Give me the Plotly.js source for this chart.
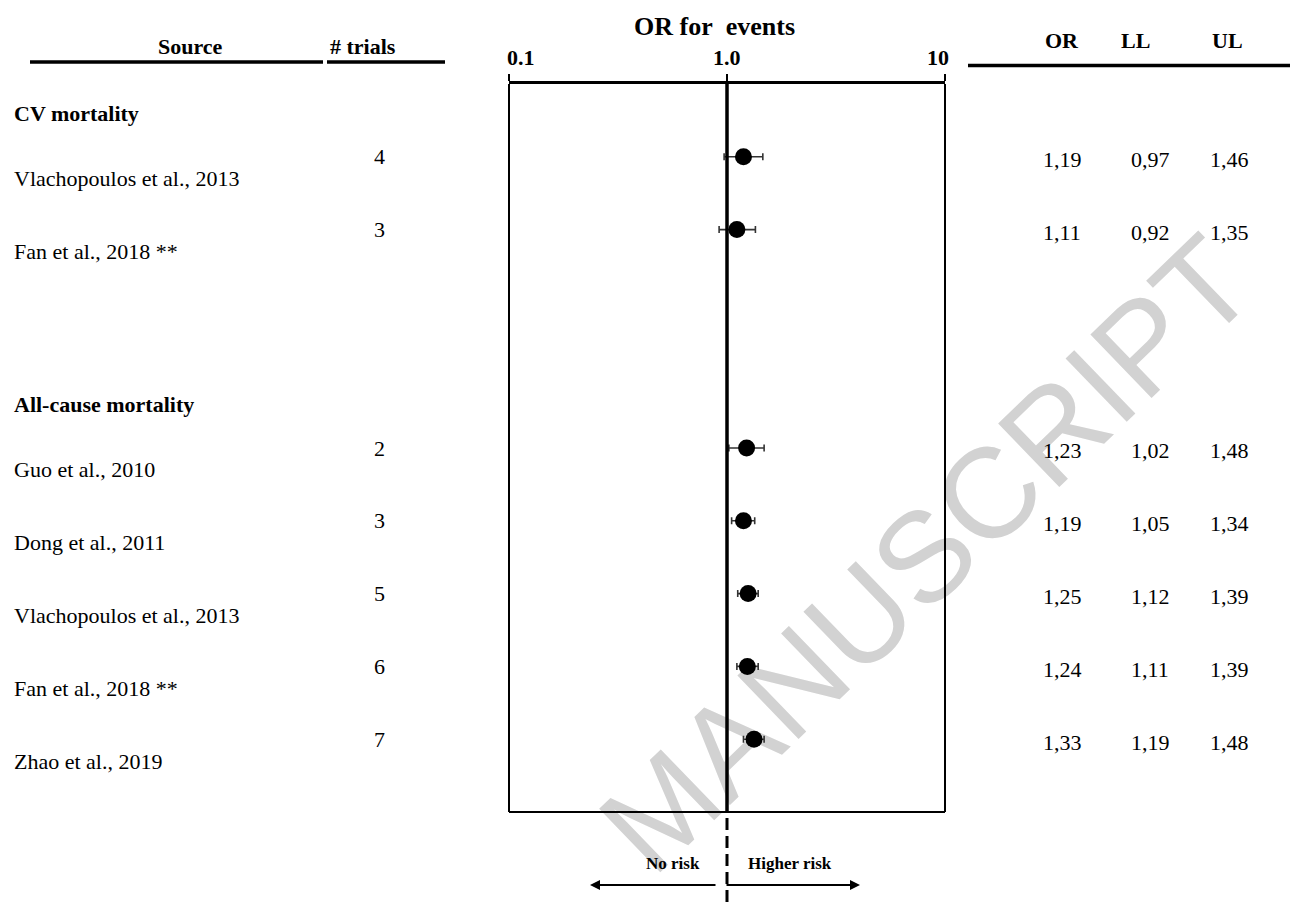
<!DOCTYPE html>
<html>
<head>
<meta charset="utf-8">
<script src="https://cdn.plot.ly/plotly-3.0.1.min.js"></script>
<style>
  html, body { margin: 0; padding: 0; background: #fff; }
  #chart { width: 1290px; height: 902px; }
</style>
</head>
<body>
<div id="chart"></div>
<script>
// ---------------- data ----------------
const groups = ['CV mortality', 'All-cause mortality'];
const sources = [
  'Vlachopoulos et al., 2013',
  'Fan et al., 2018 **',
  'Guo et al., 2010',
  'Dong et al., 2011',
  'Vlachopoulos et al., 2013',
  'Fan et al., 2018 **',
  'Zhao et al., 2019'
];
const groupOf = [0, 0, 1, 1, 1, 1, 1];
const trials = [4, 3, 2, 3, 5, 6, 7];
const orVals = [1.19, 1.11, 1.23, 1.19, 1.25, 1.24, 1.33];
const llVals = [0.97, 0.92, 1.02, 1.05, 1.12, 1.11, 1.19];
const ulVals = [1.46, 1.35, 1.48, 1.34, 1.39, 1.39, 1.48];
const tickVals = [0.1, 1, 10];
const tickLabels = ['0.1', '1.0', '10'];
const colHeaders = ['OR', 'LL', 'UL'];

// ---------------- layout helpers ----------------
const W = 1290, H = 902;
const M = { l: 509, r: 345, t: 84, b: 90 };
const PW = W - M.l - M.r, PH = H - M.t - M.b;
const px = p => (p - M.l) / PW;          // pixel x -> paper x
const py = p => (H - M.b - p) / PH;      // pixel y -> paper y

// row positions: header row, then items, blank gap between groups
const rows = [];
const headerRows = [];
let cur = 0;
groups.forEach((g, gi) => {
  headerRows.push(cur + 0.4);
  sources.forEach((s, i) => {
    if (groupOf[i] === gi) { cur += 1; rows[i] = cur; }
  });
  cur += 2;
});

const serif = 'Liberation Serif, Times New Roman, serif';
const fmt = v => v.toFixed(2).replace('.', ',');

const annotations = [];
const txt = (text, x, y, opts) => Object.assign({
  text: text, x: x, y: y, xref: 'paper', yref: 'paper', showarrow: false,
  xanchor: 'center', yanchor: 'middle',
  font: { family: serif, size: 22, color: '#000' }
}, opts || {});

// column headers
annotations.push(txt('<b>OR for\u00a0 events</b>', px(714), py(26), { font: { family: serif, size: 26, color: '#000' } }));
annotations.push(txt('<b>Source</b>', px(190), py(47)));
annotations.push(txt('<b># trials</b>', px(363), py(47)));
const colX = [1062, 1150, 1229];
const headX = [1062, 1135, 1227];
colHeaders.forEach((h, i) => annotations.push(txt('<b>' + h + '</b>', px(headX[i]), py(41))));

// top axis tick labels
const tickShift = [12, 0, -7];
tickVals.forEach((v, i) => annotations.push({
  text: '<b>' + tickLabels[i] + '</b>', x: Math.log10(v), xref: 'x', y: py(57.5), yref: 'paper',
  showarrow: false, xanchor: 'center', yanchor: 'middle', xshift: tickShift[i],
  font: { family: serif, size: 22, color: '#000' }
}));

// group headers
groups.forEach((g, gi) => annotations.push({
  text: '<b>' + g + '</b>', x: px(12), xref: 'paper', y: headerRows[gi], yref: 'y',
  showarrow: false, xanchor: 'left', yanchor: 'middle',
  font: { family: serif, size: 22, color: '#000' }
}));

// rows
sources.forEach((s, i) => {
  annotations.push({
    text: s, x: px(12), xref: 'paper', y: rows[i] + 0.3, yref: 'y',
    showarrow: false, xanchor: 'left', yanchor: 'middle',
    font: { family: serif, size: 22, color: '#000' }
  });
  annotations.push({
    text: String(trials[i]), x: px(379), xref: 'paper', y: rows[i], yref: 'y',
    showarrow: false, xanchor: 'center', yanchor: 'middle',
    font: { family: serif, size: 22, color: '#000' }
  });
  [orVals[i], llVals[i], ulVals[i]].forEach((v, c) => annotations.push({
    text: fmt(v), x: px(colX[c]), xref: 'paper', y: rows[i] + 0.04, yref: 'y',
    showarrow: false, xanchor: 'center', yanchor: 'middle',
    font: { family: serif, size: 22, color: '#000' }
  }));
});

// direction labels and arrows
annotations.push(txt('<b>No risk</b>', px(673), py(863), { font: { family: serif, size: 17, color: '#000' } }));
annotations.push(txt('<b>Higher risk</b>', px(790), py(863), { font: { family: serif, size: 17, color: '#000' } }));
annotations.push({
  text: '', x: px(590), y: py(885), xref: 'paper', yref: 'paper',
  ax: 127, ay: 0, axref: 'pixel', ayref: 'pixel',
  showarrow: true, arrowhead: 2, arrowsize: 1, arrowwidth: 2, arrowcolor: '#000'
});
annotations.push({
  text: '', x: px(860), y: py(885), xref: 'paper', yref: 'paper',
  ax: -135, ay: 0, axref: 'pixel', ayref: 'pixel',
  showarrow: true, arrowhead: 2, arrowsize: 1, arrowwidth: 2, arrowcolor: '#000'
});

// shapes
const shapes = [];
// watermark (behind everything)
const ang = 44 * Math.PI / 180;
const cx = 918, cy = 545, half = 400;
shapes.push({
  type: 'line', xref: 'paper', yref: 'paper', layer: 'below',
  x0: px(cx - half * Math.cos(ang)), y0: py(cy + half * Math.sin(ang)),
  x1: px(cx + half * Math.cos(ang)), y1: py(cy - half * Math.sin(ang)),
  line: { color: 'rgba(0,0,0,0)', width: 1 },
  label: {
    text: 'MANUSCRIPT', textangle: 'auto', textposition: 'middle',
    xanchor: 'center', yanchor: 'middle',
    font: { family: 'Liberation Sans, Arial, sans-serif', size: 128, color: '#d2d2d2' }
  }
});
// box sides
shapes.push({ type: 'line', xref: 'paper', yref: 'paper', x0: 0, x1: 0, y0: 0, y1: 1, line: { color: '#000', width: 2 } });
shapes.push({ type: 'line', xref: 'paper', yref: 'paper', x0: 1, x1: 1, y0: 0, y1: 1, line: { color: '#000', width: 2 } });
shapes.push({ type: 'line', xref: 'paper', yref: 'paper', x0: 0, x1: 1, y0: 0, y1: 0, line: { color: '#000', width: 2 } });
// reference line at OR = 1
shapes.push({ type: 'line', xref: 'x', yref: 'paper', x0: 1, x1: 1, y0: 0, y1: 1, line: { color: '#000', width: 3.5 } });
shapes.push({ type: 'line', xref: 'x', yref: 'paper', x0: 1, x1: 1, y0: py(H), y1: 0, line: { color: '#000', width: 3, dash: '12px,6px' } });
// header underlines
shapes.push({ type: 'line', xref: 'paper', yref: 'paper', x0: px(30), x1: px(323), y0: py(62), y1: py(62), line: { color: '#000', width: 3.5 } });
shapes.push({ type: 'line', xref: 'paper', yref: 'paper', x0: px(327), x1: px(445), y0: py(62), y1: py(62), line: { color: '#000', width: 3.5 } });
shapes.push({ type: 'line', xref: 'paper', yref: 'paper', x0: px(968), x1: px(1290), y0: py(65.5), y1: py(65.5), line: { color: '#000', width: 3.5 } });

const trace = {
  type: 'scatter', mode: 'markers',
  x: orVals, y: rows,
  marker: { color: '#000', size: 17, symbol: 'circle' },
  error_x: {
    type: 'data', symmetric: false,
    array: ulVals.map((u, i) => u - orVals[i]),
    arrayminus: llVals.map((l, i) => orVals[i] - l),
    color: '#333', thickness: 1.6, width: 3.5
  },
  hoverinfo: 'skip', cliponaxis: false
};

const layout = {
  width: W, height: H,
  margin: M,
  paper_bgcolor: '#fff', plot_bgcolor: 'rgba(0,0,0,0)',
  showlegend: false,
  xaxis: {
    type: 'log', range: [-1, 1], side: 'top',
    showline: true, linewidth: 3, linecolor: '#000',
    ticks: 'outside', ticklen: 7, tickwidth: 2, tickcolor: '#000',
    tickvals: tickVals, showticklabels: false,
    showgrid: false, zeroline: false, fixedrange: true
  },
  yaxis: {
    range: [10, 0], showline: false, showticklabels: false, ticks: '',
    showgrid: false, zeroline: false, fixedrange: true
  },
  annotations: annotations,
  shapes: shapes
};

Plotly.newPlot('chart', [trace], layout, { displayModeBar: false, staticPlot: true });
</script>
</body>
</html>
